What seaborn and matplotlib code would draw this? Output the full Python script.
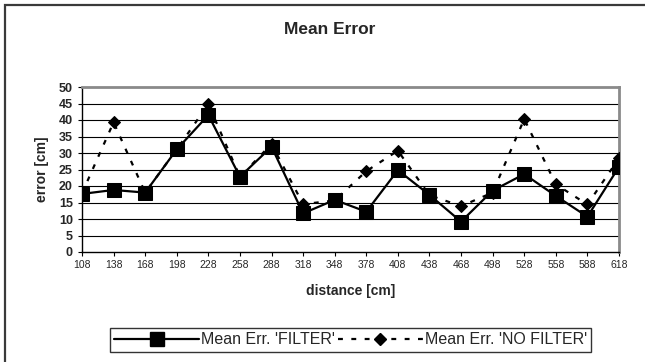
import matplotlib
matplotlib.use("Agg")
import matplotlib.pyplot as plt
import seaborn as sns
import pandas as pd
from matplotlib.patches import Rectangle
from matplotlib.lines import Line2D

distance = [108, 138, 168, 198, 228, 258, 288, 318, 348, 378, 408, 438, 468, 498, 528, 558, 588, 618]
err_filter = [17.6, 18.8, 18.0, 31.1, 41.5, 22.8, 31.9, 11.7, 15.8, 12.2, 24.8, 17.3, 9.2, 18.6, 23.6, 17.0, 10.7, 25.8]
err_nofilter = [17.8, 39.3, 18.0, 31.1, 44.8, 22.8, 32.7, 14.5, 15.6, 24.5, 30.7, 17.2, 13.9, 18.0, 40.3, 20.5, 14.4, 28.4]
y_ticks = [0, 5, 10, 15, 20, 25, 30, 35, 40, 45, 50]

df = pd.DataFrame({"distance": distance, "filter": err_filter, "nofilter": err_nofilter})

sns.set_theme(style="white")
plt.rcParams["font.family"] = ["Liberation Sans", "DejaVu Sans"]

W, H = 645, 362
fig = plt.figure(figsize=(W / 100, H / 100), dpi=100)
ax = fig.add_axes([82 / W, 1 - 252 / H, (619 - 82) / W, (252 - 87) / H])

# outer chart border (left & top visible, rest cropped)
fig.patches.append(Rectangle((5 / W, -0.2), 1.2, 1 - 5 / H + 0.2, transform=fig.transFigure,
                             fill=False, edgecolor="#3a3a3a", linewidth=1.6, zorder=0))

dash = (0, (2.2, 3.8))
sns.lineplot(data=df, x="distance", y="nofilter", ax=ax, color="black", linewidth=1.6,
             linestyle=dash, marker="D", markersize=6.5, markeredgecolor="black",
             markerfacecolor="black", zorder=3)
sns.lineplot(data=df, x="distance", y="filter", ax=ax, color="black", linewidth=1.6,
             marker="s", markersize=9.5, markeredgecolor="black",
             markerfacecolor="black", zorder=4)

ax.set_xlim(108, 618)
ax.set_ylim(0, 50)
ax.set_xticks(distance)
ax.set_xticklabels([str(d) for d in distance], fontsize=7.5)
ax.set_yticks(y_ticks)
ax.set_yticklabels([str(v) for v in y_ticks], fontsize=9, fontweight="bold")
ax.set_xlabel("")
ax.set_ylabel("")

for v in y_ticks[1:-1]:
    ax.axhline(v, color="black", linewidth=0.8, zorder=1)

ax.spines["left"].set_color("black")
ax.spines["bottom"].set_color("black")
ax.spines["left"].set_linewidth(1.0)
ax.spines["bottom"].set_linewidth(1.0)
ax.spines["top"].set_color("#8a8a8a")
ax.spines["right"].set_color("#8a8a8a")
ax.spines["top"].set_linewidth(2.0)
ax.spines["right"].set_linewidth(2.0)
ax.tick_params(axis="both", direction="out", length=3, width=0.8, color="black",
               left=True, bottom=True)
ax.tick_params(axis="x", pad=2.5)
ax.tick_params(axis="y", pad=3.5)

fig.text(330 / W, 1 - 30 / H, "Mean Error", ha="center", va="center",
         fontsize=12.5, fontweight="bold")
fig.text(42 / W, 1 - 169.5 / H, "error [cm]", ha="center", va="center",
         rotation=90, fontsize=10, fontweight="bold")
fig.text(351 / W, 1 - 291 / H, "distance [cm]", ha="center", va="center",
         fontsize=10, fontweight="bold")

h1 = Line2D([], [], color="black", linewidth=1.6, marker="s", markersize=9.5)
h2 = Line2D([], [], color="black", linewidth=1.6, linestyle=dash, marker="D", markersize=6.5)
leg = fig.legend([h1, h2], ["Mean Err. 'FILTER'", "Mean Err. 'NO FILTER'"],
                 loc="center", bbox_to_anchor=(350.5 / W, 1 - 340 / H), ncol=2,
                 frameon=True, fancybox=False, fontsize=11.5, handlelength=5.3,
                 handletextpad=0.12, columnspacing=0.2, borderpad=0.3,
                 borderaxespad=0)
leg.get_frame().set_edgecolor("black")
leg.get_frame().set_linewidth(1.0)

fig.savefig("out.png", dpi=100)
